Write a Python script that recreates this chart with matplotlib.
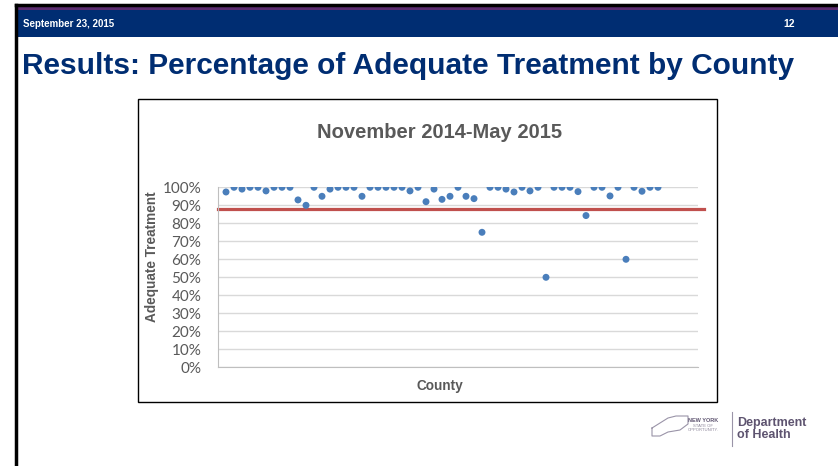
import matplotlib.pyplot as plt
from matplotlib.patches import Rectangle
from matplotlib.lines import Line2D

# county index and adequate-treatment percentage
counties = list(range(1, 56))
pct = [97.4, 100, 99, 100, 100, 98, 100, 100, 100, 93, 90, 100, 95, 99, 100,
       100, 100, 95, 100, 100, 100, 100, 100, 98, 100, 92, 99, 93.3, 95, 100,
       95, 93.7, 75, 100, 100, 99, 97.4, 100, 98, 100, 50, 100, 100, 100, 97.6,
       84.3, 100, 100, 95.2, 100, 60, 100, 97.8, 100, 100]
target = 88
y_ticks = list(range(0, 101, 10))

navy = '#002D72'
grey_txt = '#595959'

fig = plt.figure(figsize=(8.38, 4.66), dpi=100)
W, H = 838.0, 466.0

def fx(px):
    return px / W

def fy(py):
    return 1 - py / H

# slide frame and header band
fig.add_artist(Rectangle((fx(16), fy(37)), 1 - fx(16), (37 - 10) / H, transform=fig.transFigure,
                         facecolor=navy, edgecolor='none', zorder=-2))
fig.add_artist(Rectangle((fx(16), fy(10)), 1 - fx(16), 3 / H, transform=fig.transFigure,
                         facecolor='#5B2C6F', edgecolor='none', zorder=-2))
fig.add_artist(Line2D([fx(16), 1], [fy(5), fy(5)], transform=fig.transFigure, color='black', lw=2.5))
fig.add_artist(Line2D([fx(16), fx(16)], [fy(5), 0], transform=fig.transFigure, color='black', lw=2.5))

fig.text(fx(23), fy(24), 'September 23, 2015', color='white', fontsize=7, fontweight='bold',
         family='Liberation Sans', va='center')
fig.text(fx(789), fy(24), '12', color='white', fontsize=7.5, fontweight='bold',
         family='Liberation Sans', va='center', ha='center')
fig.text(fx(22), fy(66), 'Results: Percentage of Adequate Treatment by County', color=navy,
         fontsize=21.5, fontweight='bold', family='Liberation Sans', va='center')

# chart frame
fig.add_artist(Rectangle((fx(138), fy(402)), (717 - 138) / W, (402 - 99) / H, transform=fig.transFigure,
                         facecolor='white', edgecolor='black', lw=1, zorder=-1))
fig.text(fx(440), fy(132), 'November 2014-May 2015', color=grey_txt, fontsize=14.5, fontweight='bold',
         family='Liberation Sans', va='center', ha='center')

ax = fig.add_axes([fx(218), fy(367.3), 480 / W, 180 / H])
ax.patch.set_alpha(0)
ax.set_xlim(0, 60)
ax.set_ylim(0, 100)
ax.set_yticks(y_ticks)
ax.set_yticklabels(['%d%%' % v for v in y_ticks], family='Lato', fontsize=11, color=grey_txt)
ax.set_xticks([])
ax.tick_params(axis='y', length=0, pad=12)
ax.grid(axis='y', color='#D9D9D9', lw=1)
ax.set_axisbelow(True)
for s in ['top', 'right']:
    ax.spines[s].set_visible(False)
for s in ['left', 'bottom']:
    ax.spines[s].set_color('#BFBFBF')

ax.scatter(counties, pct, s=25, color='#4A7EBB', zorder=3, edgecolors='none')
ax.plot([0, 60.7], [target, target], color='#C0504D', lw=2.3, clip_on=False, zorder=2)

fig.text(fx(152), fy(257), 'Adequate Treatment', rotation=90, color=grey_txt, fontsize=9.8,
         fontweight='bold', family='Liberation Sans', va='center', ha='center')
fig.text(fx(440), fy(386), 'County', color=grey_txt, fontsize=9.8, fontweight='bold',
         family='Liberation Sans', va='center', ha='center')

# logo
fig.add_artist(Line2D([fx(732), fx(732)], [fy(412), fy(446)], transform=fig.transFigure,
                      color='#9A94A8', lw=0.8))
fig.text(fx(703), fy(420), 'NEW YORK', color='#5E5470', fontsize=4, fontweight='bold',
         family='Liberation Sans', va='center', ha='center')
fig.text(fx(703), fy(428), 'STATE OF\nOPPORTUNITY.', color='#8A8498', fontsize=3,
         family='Liberation Sans', va='center', ha='center', linespacing=1.0)
fig.text(fx(737), fy(429), 'Department\nof Health', color='#5E5470', fontsize=9, fontweight='bold',
         family='Liberation Sans', va='center', ha='left', linespacing=1.0)
fig.add_artist(Line2D([fx(652), fx(668), fx(676), fx(688), fx(688), fx(680), fx(668), fx(660), fx(652), fx(652)],
                      [fy(428), fy(418), fy(416), fy(416), fy(424), fy(430), fy(432), fy(436), fy(436), fy(428)],
                      transform=fig.transFigure, color='#9A94A8', lw=0.8))

plt.savefig('out.png', dpi=100)
